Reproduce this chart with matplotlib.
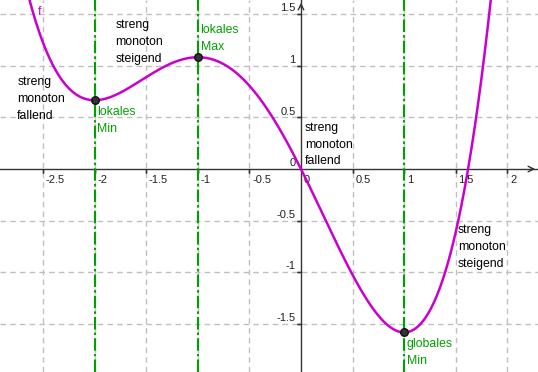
"""Graph von f mit Extremstellen und Monotonie-Bereichen (GeoGebra-Stil)."""

import numpy as np
import matplotlib.pyplot as plt

plt.rcParams["font.family"] = ["Liberation Sans", "DejaVu Sans"]

f_coeffs = [0.25, 2.0 / 3.0, -0.5, -2.0, 0.0]
extrema_x = [-2.0, -1.0, 1.0]
extrema_labels = ["lokales\nMin", "lokales\nMax", "globales\nMin"]
extrema_above = [False, True, False]
x_ticks = [-2.5, -2.0, -1.5, -1.0, -0.5, 0.0, 0.5, 1.0, 1.5, 2.0]
x_tick_labels = ["-2.5", "-2", "-1.5", "-1", "-0.5", "0", "0.5", "1", "1.5", "2"]
y_ticks = [-1.5, -1.0, -0.5, 0.0, 0.5, 1.0, 1.5]
y_tick_labels = ["-1.5", "-1", "-0.5", "0", "0.5", "1", "1.5"]
region_texts = [
    ("streng\nmonoton\nfallend", -2.75, 0.90),
    ("streng\nmonoton\nsteigend", -1.80, 1.45),
    ("streng\nmonoton\nfallend", 0.04, 0.46),
    ("streng\nmonoton\nsteigend", 1.52, -0.53),
]

CURVE = "#cc00cc"
GREEN = "#00a000"
GRID = "#c0c0c0"

fig = plt.figure(figsize=(5.38, 3.72), dpi=100)
ax = fig.add_axes([0, 0, 1, 1])
ax.set_xlim(-2.917, 2.297)
ax.set_ylim(-1.967, 1.638)
for side in ax.spines:
    ax.spines[side].set_visible(False)
ax.set_xticks([])
ax.set_yticks([])

# gestricheltes Gitter
for x in x_ticks:
    if x != 0:
        ax.axvline(x, color=GRID, lw=1, ls=(0, (4, 3)), zorder=0)
for y in y_ticks:
    if y != 0:
        ax.axhline(y, color=GRID, lw=1, ls=(0, (4, 3)), zorder=0)

# Achsen mit Pfeilen
ax.axhline(0, color="#333333", lw=1, zorder=1)
ax.axvline(0, color="#333333", lw=1, zorder=1)
ax.annotate("", xy=(1, 0), xycoords=("axes fraction", "data"),
            xytext=(-7, 0), textcoords="offset points",
            arrowprops=dict(arrowstyle="->", color="#333333", lw=1))
ax.annotate("", xy=(0, 1), xycoords=("data", "axes fraction"),
            xytext=(0, -7), textcoords="offset points",
            arrowprops=dict(arrowstyle="->", color="#333333", lw=1))

# Achsenbeschriftung
for x, lab in zip(x_ticks, x_tick_labels):
    if x != 0:
        ax.plot([x, x], [0, 0], marker=3, ms=3, color="#333333", mew=1, zorder=2)
    ax.annotate(lab, (x, 0), xytext=(2, -4), textcoords="offset points",
                ha="left", va="top", fontsize=8, color="#222222")
for y, lab in zip(y_ticks, y_tick_labels):
    if y != 0:
        ax.plot([0, 0], [y, y], marker=0, ms=3, color="#333333", mew=1, zorder=2)
    ax.annotate(lab, (0, y), xytext=(-4, 2), textcoords="offset points",
                ha="right", va="baseline", fontsize=8, color="#222222")

# Extremstellen
for x, lab, above in zip(extrema_x, extrema_labels, extrema_above):
    ax.axvline(x, color=GREEN, lw=1.5, ls=(0, (6, 1.5, 1.2, 1.5)), zorder=2)
    y = np.polyval(f_coeffs, x)
    ax.annotate(lab, (x, y), xytext=(2, 3 if above else -4),
                textcoords="offset points", ha="left",
                va="bottom" if above else "top",
                fontsize=8.8, color=GREEN, linespacing=1.55)

# Funktionsgraph
xs = np.linspace(-2.917, 2.297, 800)
ax.plot(xs, np.polyval(f_coeffs, xs), color=CURVE, lw=1.8, zorder=3)
ex_y = [np.polyval(f_coeffs, x) for x in extrema_x]
ax.scatter(extrema_x, ex_y, s=30, color="#333333", edgecolor="#111111", zorder=4)
ax.text(-2.55, 1.52, "f", color=CURVE, fontsize=8.8, ha="left", va="center")

for txt, x, y in region_texts:
    ax.text(x, y, txt, fontsize=8.8, ha="left", va="top", color="black",
            linespacing=1.55)

fig.savefig("out.png", dpi=100)
